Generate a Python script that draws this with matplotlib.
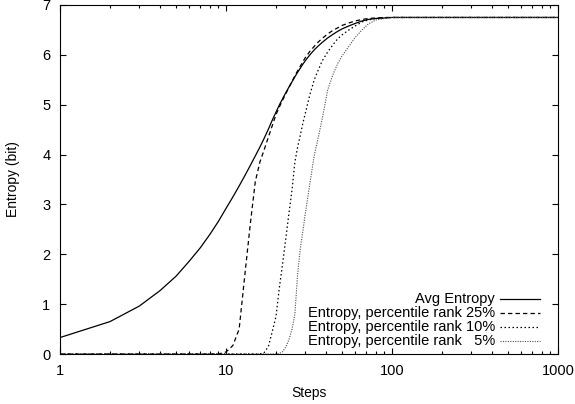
import matplotlib
matplotlib.use("Agg")
import matplotlib.pyplot as plt
from matplotlib.ticker import LogLocator, NullFormatter, FixedLocator, FixedFormatter

plt.rcParams.update({
    "font.family": ["Liberation Sans", "DejaVu Sans"],
    "font.size": 10,
    "axes.linewidth": 0.8,
})

# data
steps = list(range(1, 31)) + [32, 34, 36, 38, 41, 44, 47, 50, 55, 60, 66, 72,
                              80, 90, 100, 200, 500, 1000]

avg_entropy = [0.33, 0.65, 0.96, 1.27, 1.56, 1.86, 2.13, 2.40, 2.66, 2.92,
               3.15, 3.37, 3.58, 3.78, 3.97, 4.15, 4.33, 4.51, 4.69, 4.85,
               5.00, 5.13, 5.25, 5.36, 5.46, 5.56, 5.65, 5.73, 5.81, 5.88,
               6.00, 6.10, 6.18, 6.25, 6.34, 6.41, 6.47, 6.52, 6.58, 6.63,
               6.68, 6.71, 6.73, 6.74, 6.75, 6.75, 6.75, 6.75]

pct25 = [0, 0, 0, 0, 0, 0, 0, 0, 0, 0.04,
         0.17, 0.50, 1.60, 2.60, 3.45, 3.85, 4.10, 4.35, 4.58, 4.80,
         4.96, 5.10, 5.23, 5.35, 5.47, 5.58, 5.68, 5.77, 5.86, 5.94,
         6.07, 6.17, 6.26, 6.33, 6.42, 6.49, 6.54, 6.59, 6.64, 6.68,
         6.71, 6.73, 6.74, 6.75, 6.75, 6.75, 6.75, 6.75]

pct10 = [0, 0, 0, 0, 0, 0, 0, 0, 0, 0,
         0, 0, 0, 0, 0, 0, 0.03, 0.15, 0.45, 0.75,
         1.35, 1.85, 2.35, 2.85, 3.30, 3.85, 4.15, 4.38, 4.62, 4.82,
         5.20, 5.50, 5.70, 5.88, 6.06, 6.20, 6.32, 6.40, 6.50, 6.58,
         6.66, 6.70, 6.73, 6.74, 6.75, 6.75, 6.75, 6.75]

pct5 = [0, 0, 0, 0, 0, 0, 0, 0, 0, 0,
        0, 0, 0, 0, 0, 0, 0, 0, 0, 0,
        0.01, 0.05, 0.15, 0.30, 0.50, 0.80, 1.60, 2.10, 2.45, 2.80,
        3.42, 3.98, 4.35, 4.72, 5.30, 5.60, 5.82, 5.98, 6.17, 6.35,
        6.50, 6.62, 6.70, 6.73, 6.75, 6.75, 6.75, 6.75]

labels = ["Avg Entropy",
          "Entropy, percentile rank 25%",
          "Entropy, percentile rank 10%",
          "Entropy, percentile rank   5%"]

fig = plt.figure(figsize=(5.75, 4.04), dpi=100)
ax = fig.add_axes([60 / 575, 50 / 404, 498 / 575, 349 / 404])

styles = [
    dict(color="black", lw=0.9, ls="-"),
    dict(color="black", lw=0.9, ls=(0, (3.5, 2.5))),
    dict(color="black", lw=0.9, ls=(0, (1.2, 2.0))),
    dict(color="#4d4d4d", lw=0.8, ls=(0, (1.0, 1.2))),
]
series = [avg_entropy, pct25, pct10, pct5]
for vals, st in zip(series, styles):
    ax.plot(steps, vals, **st)

ax.set_xscale("log")
ax.set_xlim(1, 1000)
ax.set_ylim(0, 7)
ax.xaxis.set_major_locator(FixedLocator([1, 10, 100, 1000]))
ax.xaxis.set_major_formatter(FixedFormatter(["1", "10", "100", "1000"]))
ax.xaxis.set_minor_locator(LogLocator(base=10, subs=range(2, 10)))
ax.xaxis.set_minor_formatter(NullFormatter())
ax.set_yticks(range(0, 8))

ax.tick_params(which="both", direction="in", top=True, right=True,
               width=0.8)
ax.tick_params(which="major", length=4.5)
ax.tick_params(which="minor", length=2.5)
ax.tick_params(axis="x", pad=7, labelsize=10.5)
ax.tick_params(axis="y", pad=7, labelsize=10.5)

ax.set_xlabel("Steps")
ax.set_ylabel("Entropy (bit)")
ax.xaxis.set_label_coords(0.5, -0.093)
ax.yaxis.set_label_coords(-0.08, 0.5)

# gnuplot-style key: right-aligned text, line sample on the right
key_y = [0.1576, 0.1175, 0.0774, 0.0372]
for lab, st, ky in zip(labels, styles, key_y):
    ax.text(0.8735, ky, lab, transform=ax.transAxes, ha="right",
            va="center", fontsize=10.5)
    ax.plot([0.8835, 0.9639], [ky, ky], transform=ax.transAxes, **st)

fig.savefig("out.png", dpi=100)
